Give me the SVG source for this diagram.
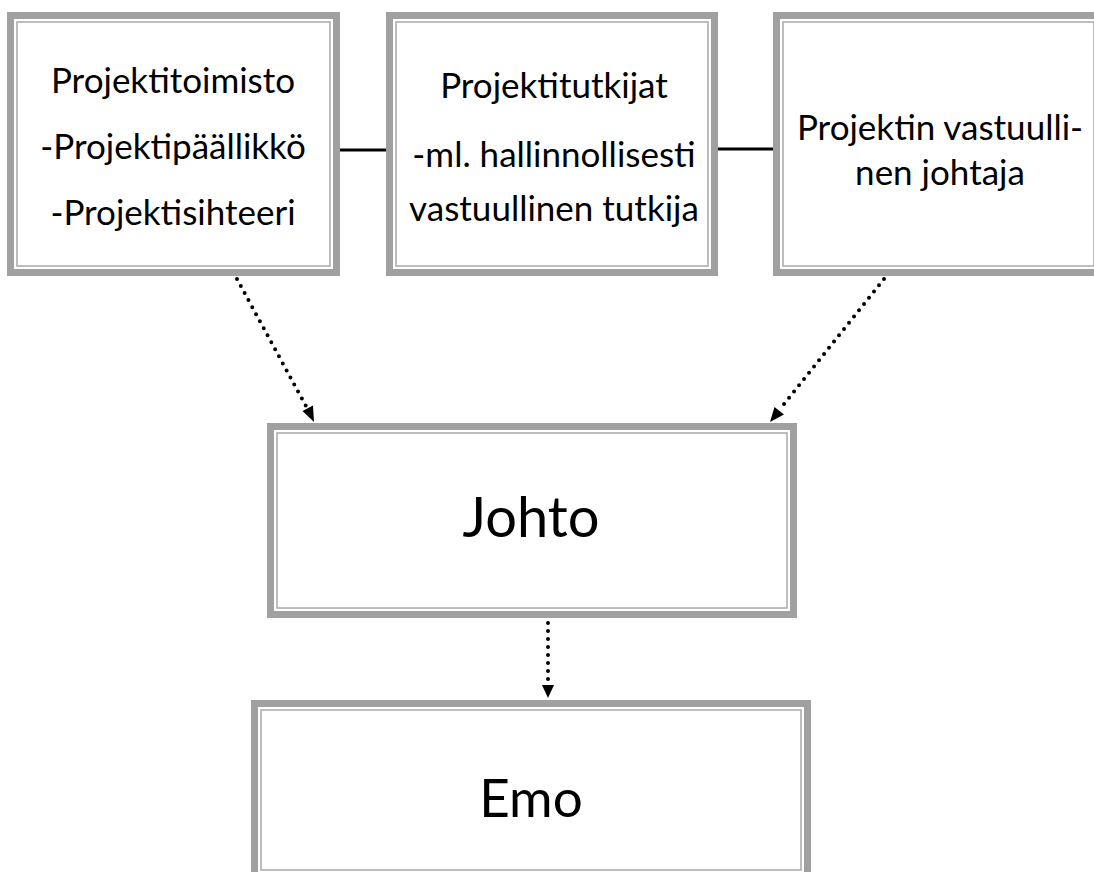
<svg xmlns="http://www.w3.org/2000/svg" width="1094" height="872" viewBox="0 0 1094 872">
<defs>
<style>
.outer{fill:#fff;stroke:#a0a0a0;stroke-width:7}
.inner{fill:none;stroke:#a8a8a8;stroke-width:1.5}
.t{font-family:Lato,"Open Sans","Liberation Sans",sans-serif;fill:#000;text-anchor:middle}
.s{font-size:35px}
.b{font-size:56px}
.solid{stroke:#000;stroke-width:3;fill:none}
.dot{stroke:#000;stroke-width:4;fill:none;stroke-linecap:round;stroke-dasharray:0 8}
</style>
</defs>
<rect width="1094" height="872" fill="#fff"/>
<g id="connectors">
<line class="solid" x1="340" y1="150" x2="386" y2="150"/>
<line class="solid" x1="718" y1="149" x2="773" y2="149"/>
<path class="dot" d="M237,279 L307,408"/>
<path d="M314,422 L302.5,411 L313,405.5 z" fill="#000"/>
<path class="dot" d="M884,279 L780,409"/>
<path d="M770,422 L774.5,407 L784,414.5 z" fill="#000"/>
<path class="dot" d="M548,591 L548,684"/>
<path d="M548,698 L542,685 L554,685 z" fill="#000"/>
</g>
<g id="n1">
<rect class="outer" x="10.5" y="15.5" width="326" height="257"/>
<rect class="inner" x="17" y="22" width="313" height="244"/>
<text class="t s" x="173" y="93">Projektitoimisto</text>
<text class="t s" x="173" y="159">-Projektipäällikkö</text>
<text class="t s" x="173" y="225">-Projektisihteeri</text>
</g>
<g id="n2">
<rect class="outer" x="389.5" y="15.5" width="325" height="257"/>
<rect class="inner" x="396" y="22" width="312" height="244"/>
<text class="t s" x="554" y="98">Projektitutkijat</text>
<text class="t s" x="554" y="167">-ml. hallinnollisesti</text>
<text class="t s" x="554" y="221">vastuullinen tutkija</text>
</g>
<g id="n3">
<rect class="outer" x="776.5" y="15.5" width="324" height="257"/>
<rect class="inner" x="783" y="22" width="311" height="244"/>
<text class="t s" x="940" y="140">Projektin vastuulli-</text>
<text class="t s" x="940" y="185">nen johtaja</text>
</g>
<g id="johto">
<rect class="outer" x="270.5" y="426.5" width="523" height="188"/>
<rect class="inner" x="277" y="433" width="510" height="175"/>
<text class="t b" x="531" y="537">Johto</text>
</g>
<g id="emo">
<rect class="outer" x="254.5" y="703.5" width="553" height="173"/>
<rect class="inner" x="261" y="710" width="540" height="160"/>
<text class="t b" x="531" y="817" style="font-size:53px">Emo</text>
</g>
</svg>
